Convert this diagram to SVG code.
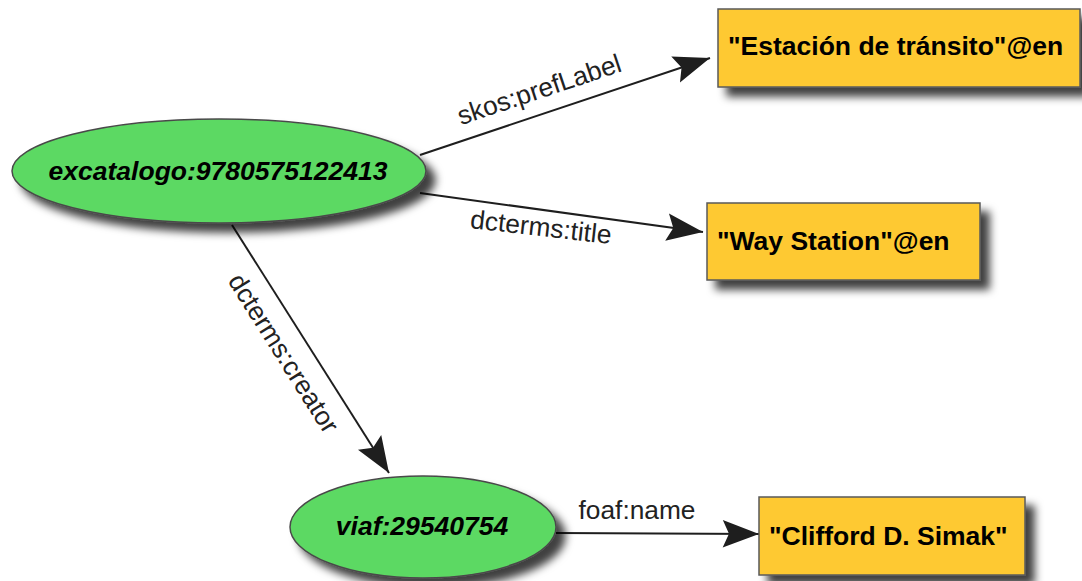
<svg xmlns="http://www.w3.org/2000/svg" width="1082" height="581" viewBox="0 0 1082 581">
<defs>
<style>
.res{fill:#5cd963;stroke:#4a4a4a;stroke-width:1.5}
.lit{fill:#fec933;stroke:#5a5a5a;stroke-width:1.5}
.nt{font-family:"Liberation Sans",Arial,sans-serif;font-size:26.5px;font-weight:bold;fill:#000}
.it{font-style:italic}
.lbl{font-family:"Liberation Sans",Arial,sans-serif;font-size:26.3px;fill:#222}
.edge{stroke:#1e1e1e;stroke-width:2;fill:none;marker-end:url(#arr)}
</style>
<filter id="sh" x="-20%" y="-30%" width="150%" height="180%">
<feDropShadow dx="9" dy="9" stdDeviation="4.5" flood-color="#000" flood-opacity="0.75"/>
</filter>
<marker id="arr" markerUnits="userSpaceOnUse" markerWidth="40" markerHeight="30" viewBox="-30 -12 32 24" refX="0" refY="0" orient="auto">
<path d="M0,0 L-29,-11 L-24,0 L-29,11 Z" fill="#1e1e1e"/>
</marker>
</defs>
<g id="connectors">
<path class="edge" d="M420,155 L710,58"/>
<path class="edge" d="M420,193 L703,232"/>
<path class="edge" d="M232,225 L389,473"/>
<path class="edge" d="M556,533 L759,534"/>
<text class="lbl" transform="translate(542,98) rotate(-18.5)" text-anchor="middle">skos:prefLabel</text>
<text class="lbl" transform="translate(540,236) rotate(6.5)" text-anchor="middle">dcterms:title</text>
<text class="lbl" transform="translate(276,358) rotate(57.7)" text-anchor="middle">dcterms:creator</text>
<text class="lbl" x="637" y="519" text-anchor="middle">foaf:name</text>
</g>
<g id="n-excatalogo">
<ellipse class="res" cx="219" cy="171" rx="207" ry="52" filter="url(#sh)"/>
<text class="nt it" x="218" y="180" text-anchor="middle">excatalogo:9780575122413</text>
</g>
<g id="n-viaf">
<ellipse class="res" cx="423" cy="527" rx="133" ry="51" filter="url(#sh)"/>
<text class="nt it" x="422" y="535" text-anchor="middle">viaf:29540754</text>
</g>
<g id="n-estacion">
<rect class="lit" x="718" y="9" width="362" height="78" filter="url(#sh)"/>
<text class="nt" x="728" y="55">"Estación de tránsito"@en</text>
</g>
<g id="n-way">
<rect class="lit" x="707" y="203" width="273" height="77" filter="url(#sh)"/>
<text class="nt" x="717" y="250">"Way Station"@en</text>
</g>
<g id="n-simak">
<rect class="lit" x="759" y="497" width="266" height="78" filter="url(#sh)"/>
<text class="nt" x="769" y="545">"Clifford D. Simak"</text>
</g>
</svg>
